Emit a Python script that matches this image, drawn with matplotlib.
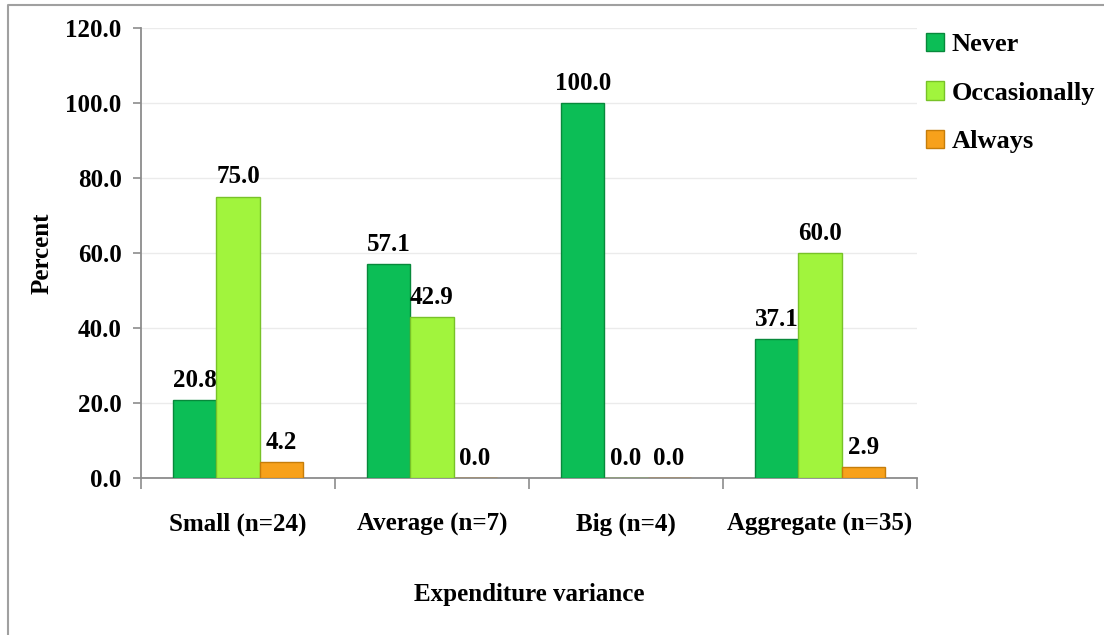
import numpy as np
import matplotlib.pyplot as plt
from matplotlib.lines import Line2D

categories = ['Small (n=24)', 'Average (n=7)', 'Big (n=4)', 'Aggregate (n=35)']
series_names = ['Never', 'Occasionally', 'Always']
never = [20.8, 57.1, 100.0, 37.1]
occasionally = [75.0, 42.9, 0.0, 60.0]
always = [4.2, 0.0, 0.0, 2.9]
yticks = [0, 20, 40, 60, 80, 100, 120]

colors = ['#0CBE56', '#A1F43D', '#F7A11B']
edges = ['#07893B', '#78C228', '#C67D0A']

plt.rcParams['font.family'] = ['Liberation Serif', 'DejaVu Serif']
plt.rcParams['font.weight'] = 'bold'

fig = plt.figure(figsize=(11.04, 6.35), dpi=100)
ax = fig.add_axes([141 / 1104, 1 - 478 / 635, (917 - 141) / 1104, (478 - 28) / 635])

x = np.arange(len(categories))
w = 0.222
for i, (vals, name) in enumerate(zip([never, occasionally, always], series_names)):
    pos = x + (i - 1) * w
    ax.bar(pos, vals, width=w, color=colors[i], edgecolor=edges[i], linewidth=1, label=name, zorder=3)
    for px, v in zip(pos, vals):
        ax.annotate(f'{v:.1f}', (px, v), xytext=(0, 6), textcoords='offset points',
                    ha='center', va='bottom', fontsize=18, fontweight='bold')

ax.set_xlim(-0.5, len(categories) - 0.5)
ax.set_ylim(0, 120)
ax.set_yticks(yticks)
ax.set_yticklabels([f'{t:.1f}' for t in yticks], fontsize=18, fontweight='bold')
ax.set_xticks(x)
ax.set_xticklabels(categories, fontsize=18, fontweight='bold')
ax.set_xticks(np.arange(len(categories) + 1) - 0.5, minor=True)
ax.tick_params(axis='x', which='major', length=0, pad=25)
ax.tick_params(axis='x', which='minor', length=8, color='#8C8C8C', width=1.2)
ax.tick_params(axis='y', length=6, color='#8C8C8C', width=1.2, pad=8)

ax.grid(axis='y', color='#EBEBEB', linewidth=1, zorder=0)
for s in ['top', 'right']:
    ax.spines[s].set_visible(False)
for s in ['left', 'bottom']:
    ax.spines[s].set_color('#8C8C8C')
    ax.spines[s].set_linewidth(1.3)

fig.text(42 / 1104, 1 - 253 / 635, 'Percent', rotation=90, ha='center', va='center',
         fontsize=18, fontweight='bold')
fig.text(529 / 1104, 1 - 595 / 635, 'Expenditure variance', ha='center', va='center',
         fontsize=18, fontweight='bold')

handles = [plt.Rectangle((0, 0), 1, 1, facecolor=c, edgecolor=e) for c, e in zip(colors, edges)]
fig.legend(handles, series_names, loc='upper left', bbox_to_anchor=(915 / 1104, 1 - 22 / 635),
           frameon=False, fontsize=19, handlelength=0.7, handleheight=0.7,
           handletextpad=0.3, labelspacing=0.95, borderaxespad=0)

fig.add_artist(Line2D([8 / 1104, 8 / 1104, 1], [0, 1 - 5 / 635, 1 - 5 / 635],
                      transform=fig.transFigure, color='#A0A0A0', linewidth=1.5))

fig.savefig('out.png', dpi=100)
